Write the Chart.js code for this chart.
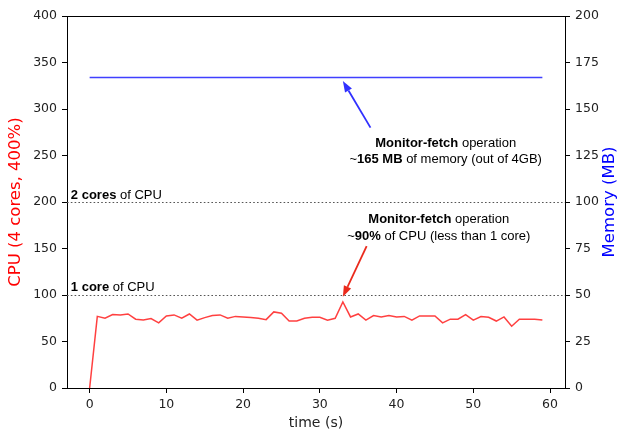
<!DOCTYPE html>
<html>
<head>
<meta charset="utf-8">
<script src="https://cdn.jsdelivr.net/npm/chart.js@4/dist/chart.umd.min.js"></script>
<style>
  html, body { margin: 0; padding: 0; background: #fff; }
  #wrap { width: 618px; height: 433px; }
</style>
</head>
<body>
<div id="wrap"><canvas id="chart"></canvas></div>
<script>
// time axis (seconds)
const seconds = [
  0, 1, 2, 3, 4, 5, 6, 7, 8, 9, 10, 11, 12, 13, 14, 15, 16, 17, 18, 19,
  20, 21, 22, 23, 24, 25, 26, 27, 28, 29, 30, 31, 32, 33, 34, 35, 36, 37, 38, 39,
  40, 41, 42, 43, 44, 45, 46, 47, 48, 49, 50, 51, 52, 53, 54, 55, 56, 57, 58, 59
];
// CPU usage in % (400% = 4 cores)
const cpu = [
  0, 77, 75, 79, 78.6, 79.6, 74, 73, 74.6, 70,
  77.5, 78.6, 75, 79.6, 73, 75.7, 78, 78.6, 75, 77,
  76.4, 75.7, 75, 73.5, 81.8, 80.4, 72, 72, 75, 76,
  76, 73, 75, 92.6, 76.4, 79.6, 73, 77.9, 76.4, 78,
  76.4, 77, 73, 77.5, 77.5, 77.5, 70, 74, 74, 79,
  73, 76.8, 76, 72, 76.4, 66.4, 74, 74, 74, 73
];
// memory in MB
const memory = [
  167, 167, 167, 167, 167, 167, 167, 167, 167, 167,
  167, 167, 167, 167, 167, 167, 167, 167, 167, 167,
  167, 167, 167, 167, 167, 167, 167, 167, 167, 167,
  167, 167, 167, 167, 167, 167, 167, 167, 167, 167,
  167, 167, 167, 167, 167, 167, 167, 167, 167, 167,
  167, 167, 167, 167, 167, 167, 167, 167, 167, 167
];

const xTicks = [0, 10, 20, 30, 40, 50, 60];
const cpuTicks = [0, 50, 100, 150, 200, 250, 300, 350, 400];
const memTicks = [0, 25, 50, 75, 100, 125, 150, 175, 200];

// reference levels on the CPU axis (1 core, 2 cores)
const coreLines = [100, 200];

// annotation texts: [text, bold] segments
const notes = [
  { x: -2.45, y: 207.5, align: 'left', segs: [['2 cores', true], [' of CPU', false]] },
  { x: -2.45, y: 108.5, align: 'left', segs: [['1 core', true], [' of CPU', false]] },
  { x: 46.4, y: 263, align: 'center', segs: [['Monitor-fetch', true], [' operation', false]] },
  { x: 46.4, y: 246, align: 'center', segs: [['~', false], ['165 MB', true], [' of memory (out of 4GB)', false]] },
  { x: 45.5, y: 181.5, align: 'center', segs: [['Monitor-fetch', true], [' operation', false]] },
  { x: 45.5, y: 163.5, align: 'center', segs: [['~', false], ['90%', true], [' of CPU (less than 1 core)', false]] }
];

// arrows: from (x, y on fromAxis) to (x, y on toAxis)
const arrows = [
  { from: [36.6, 140], fromAxis: 'y2', to: [33, 165], toAxis: 'y2', color: '#3030ff' },
  { from: [36.1, 152.5], fromAxis: 'y', to: [33, 98], toAxis: 'y', color: '#ea2a1c' }
];

const tickFont = { family: 'DejaVu Sans', size: 12.5 };
const noteFont = 'Liberation Sans';

function drawRich(ctx, segs, x, y, align) {
  let widths = segs.map(s => {
    ctx.font = (s[1] ? 'bold ' : '') + '13px "' + noteFont + '"';
    return ctx.measureText(s[0]).width;
  });
  let total = widths.reduce((a, b) => a + b, 0);
  let cx = align === 'center' ? x - total / 2 : x;
  segs.forEach((s, i) => {
    ctx.font = (s[1] ? 'bold ' : '') + '13px "' + noteFont + '"';
    ctx.fillText(s[0], cx, y);
    cx += widths[i];
  });
}

const decorations = {
  id: 'decorations',
  beforeDatasetsDraw(chart) {
    const { ctx, chartArea, scales } = chart;
    ctx.save();
    ctx.strokeStyle = '#555';
    ctx.lineWidth = 1.2;
    ctx.setLineDash([1.6, 2.2]);
    coreLines.forEach(v => {
      const py = Math.round(scales.y.getPixelForValue(v)) + 0.5;
      ctx.beginPath();
      ctx.moveTo(chartArea.left, py);
      ctx.lineTo(chartArea.right, py);
      ctx.stroke();
    });
    ctx.restore();
  },
  afterDatasetsDraw(chart) {
    const { ctx, chartArea, scales } = chart;
    ctx.save();
    // top spine
    ctx.strokeStyle = '#000';
    ctx.lineWidth = 1;
    ctx.beginPath();
    ctx.moveTo(chartArea.left, Math.round(chartArea.top) + 0.5);
    ctx.lineTo(chartArea.right, Math.round(chartArea.top) + 0.5);
    ctx.stroke();

    // right axis title, reading bottom to top like matplotlib
    ctx.save();
    ctx.translate(scales.y2.right - 8, (chartArea.top + chartArea.bottom) / 2);
    ctx.rotate(-Math.PI / 2);
    ctx.fillStyle = '#0000ff';
    ctx.font = '16.5px "DejaVu Sans"';
    ctx.textAlign = 'center';
    ctx.textBaseline = 'middle';
    ctx.fillText('Memory (MB)', 0, 0);
    ctx.restore();

    ctx.fillStyle = '#000';
    ctx.textBaseline = 'middle';
    ctx.textAlign = 'left';
    notes.forEach(n => {
      drawRich(ctx, n.segs, scales.x.getPixelForValue(n.x), scales.y.getPixelForValue(n.y), n.align);
    });

    arrows.forEach(a => {
      const x0 = scales.x.getPixelForValue(a.from[0]);
      const y0 = scales[a.fromAxis].getPixelForValue(a.from[1]);
      const x1 = scales.x.getPixelForValue(a.to[0]);
      const y1 = scales[a.toAxis].getPixelForValue(a.to[1]);
      const ang = Math.atan2(y1 - y0, x1 - x0);
      const headLen = 11, headW = 4;
      const bx = x1 - headLen * Math.cos(ang), by = y1 - headLen * Math.sin(ang);
      ctx.strokeStyle = a.color;
      ctx.fillStyle = a.color;
      ctx.lineWidth = 1.8;
      ctx.beginPath();
      ctx.moveTo(x0, y0);
      ctx.lineTo(bx, by);
      ctx.stroke();
      ctx.beginPath();
      ctx.moveTo(x1, y1);
      ctx.lineTo(bx + headW * Math.sin(ang), by - headW * Math.cos(ang));
      ctx.lineTo(bx - headW * Math.sin(ang), by + headW * Math.cos(ang));
      ctx.closePath();
      ctx.fill();
    });
    ctx.restore();
  }
};

const axisGrid = { drawOnChartArea: false, tickLength: 5, color: '#000', tickColor: '#000', tickWidth: 1 };
const axisBorder = { color: '#000', width: 1 };

new Chart('chart', {
  type: 'line',
  data: {
    datasets: [
      {
        label: 'CPU',
        data: seconds.map((t, i) => ({ x: t, y: cpu[i] })),
        yAxisID: 'y',
        borderColor: 'rgba(255, 30, 30, 0.85)',
        borderWidth: 1.5,
        pointRadius: 0,
        tension: 0
      },
      {
        label: 'Memory',
        data: seconds.map((t, i) => ({ x: t, y: memory[i] })),
        yAxisID: 'y2',
        borderColor: 'rgba(30, 30, 255, 0.85)',
        borderWidth: 1.5,
        pointRadius: 0,
        tension: 0
      }
    ]
  },
  options: {
    animation: false,
    responsive: true,
    maintainAspectRatio: false,
    layout: { padding: { top: 16, left: 0, right: 0, bottom: 0 } },
    plugins: { legend: { display: false }, tooltip: { enabled: false } },
    scales: {
      x: {
        type: 'linear',
        min: -2.95,
        max: 61.95,
        afterBuildTicks: s => { s.ticks = xTicks.map(v => ({ value: v })); },
        afterFit: s => { s.height = 45; },
        ticks: { font: tickFont, color: '#222', padding: 4, maxRotation: 0 },
        grid: axisGrid,
        border: axisBorder,
        title: { display: true, text: 'time (s)', color: '#222', font: { family: 'DejaVu Sans', size: 14 }, padding: { top: 0, bottom: 1 } }
      },
      y: {
        position: 'left',
        min: 0,
        max: 400,
        afterBuildTicks: s => { s.ticks = cpuTicks.map(v => ({ value: v })); },
        afterFit: s => { s.width = 67; },
        ticks: { font: tickFont, color: '#222', padding: 5 },
        grid: axisGrid,
        border: axisBorder,
        title: { display: true, text: 'CPU (4 cores, 400%)', color: '#ff0000', font: { family: 'DejaVu Sans', size: 16.5 }, padding: { top: 6, bottom: 0 } }
      },
      y2: {
        position: 'right',
        min: 0,
        max: 200,
        afterBuildTicks: s => { s.ticks = memTicks.map(v => ({ value: v })); },
        afterFit: s => { s.width = 53; },
        ticks: { font: tickFont, color: '#222', padding: 5 },
        grid: axisGrid,
        border: axisBorder
      }
    }
  },
  plugins: [decorations]
});
</script>
</body>
</html>
